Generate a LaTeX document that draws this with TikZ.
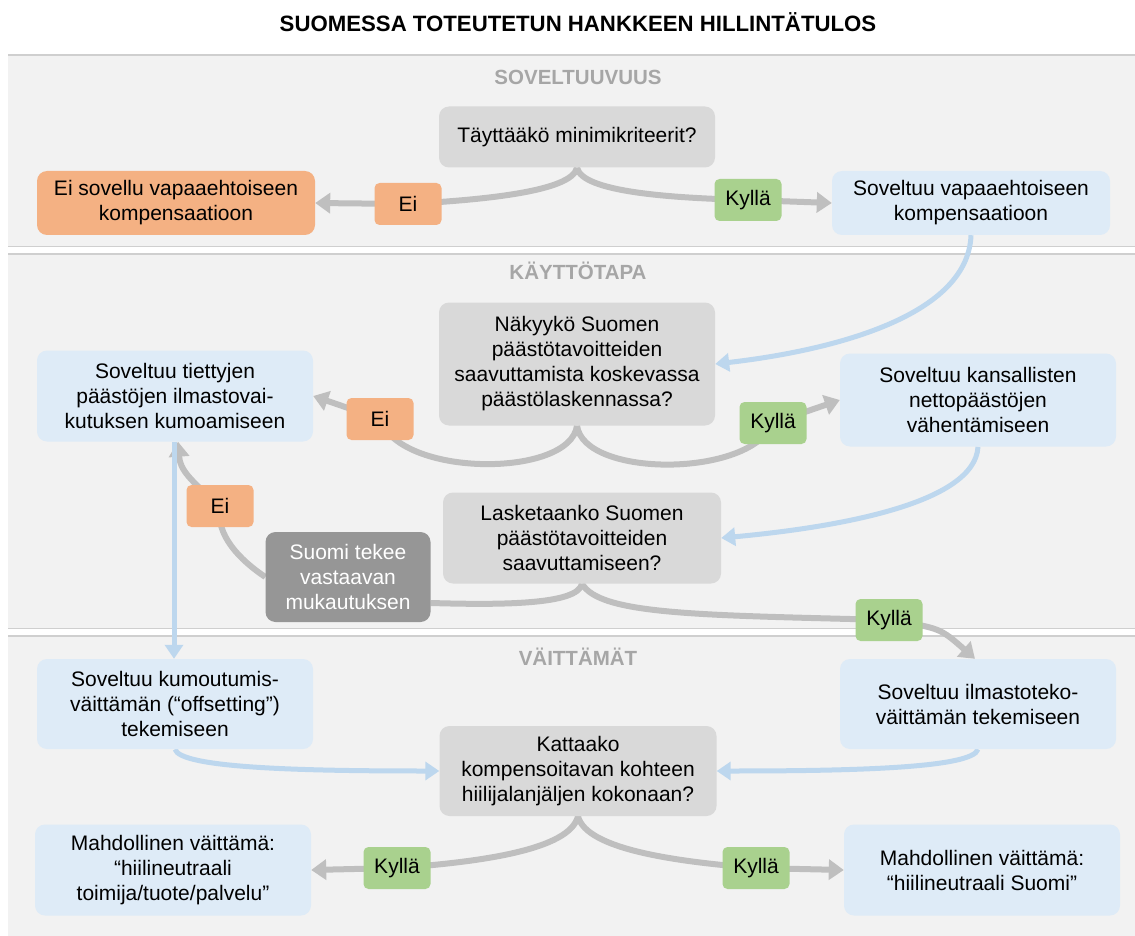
\documentclass[tikz,border=0pt]{standalone}
\usepackage{fontspec}
\setmainfont{Liberation Sans}
\usetikzlibrary{arrows.meta}

\pgfdeclarelayer{hinten}
\pgfdeclarelayer{linien}
\pgfsetlayers{hinten,linien,main}

\definecolor{band}{HTML}{F2F2F2}
\definecolor{bandlinie}{HTML}{CFCFCF}
\definecolor{fragegrau}{HTML}{D9D9D9}
\definecolor{hellblau}{HTML}{DEEBF7}
\definecolor{orange}{HTML}{F4B183}
\definecolor{gruen}{HTML}{A9D18E}
\definecolor{dunkelgrau}{HTML}{969696}
\definecolor{pfeilgrau}{HTML}{BFBFBF}
\definecolor{pfeilblau}{HTML}{BDD7EE}
\definecolor{sektion}{HTML}{A6A6A6}

\tikzset{
  txt/.style={font=\fontsize{21}{25}\selectfont},
  box/.style={txt, rounded corners=10pt, minimum width=276pt, align=center, inner sep=2pt},
  frage/.style={box, fill=fragegrau},
  blau/.style={box, fill=hellblau},
  nein/.style={txt, rounded corners=5pt, fill=orange, minimum width=67pt, minimum height=42pt, inner sep=1pt},
  ja/.style={nein, fill=gruen},
  sek/.style={font=\bfseries\fontsize{20.5}{24}\selectfont, text=sektion},
  gpfeil/.style={draw=pfeilgrau, line width=6pt, -{Triangle[width=20pt,length=15pt]}},
  glinie/.style={draw=pfeilgrau, line width=6pt},
  bpfeil/.style={draw=pfeilblau, line width=5pt, -{Triangle[width=18pt,length=14pt]}}
}

\begin{document}
\begin{tikzpicture}[x=1pt, y=-1pt]
    \useasboundingbox (0,0) rectangle (1135,936);

    % Baender
    \begin{pgfonlayer}{hinten}
      \fill[band] (8,55) rectangle (1135,246);
      \fill[band] (8,254) rectangle (1135,628);
      \fill[band] (8,636) rectangle (1135,936);
      \draw[bandlinie, line width=1.2pt] (8,55) -- (1135,55);
      \draw[bandlinie, line width=1pt] (8,246) -- (1135,246);
      \draw[bandlinie, line width=1.2pt] (8,254) -- (1135,254);
      \draw[bandlinie, line width=1pt] (8,628) -- (1135,628);
      \draw[bandlinie, line width=1.2pt] (8,636) -- (1135,636);
    \end{pgfonlayer}

    % Titel
    \node[font=\bfseries\fontsize{22.2}{26}\selectfont] (titel) at (578,22)
      {SUOMESSA TOTEUTETUN HANKKEEN HILLINTÄTULOS};
    \node[sek] (sek1) at (578,77) {SOVELTUUVUUS};
    \node[sek] (sek2) at (578,271) {KÄYTTÖTAPA};
    \node[sek] (sek3) at (578,657) {VÄITTÄMÄT};

    % Soveltuvuus
    \node[frage, minimum height=61pt] (q1) at (577,137) {Täyttääkö minimikriteerit?};
    \node[box, fill=orange, minimum width=278pt, minimum height=64pt] (nein1) at (176,203)
      {Ei sovellu vapaaehtoiseen\\kompensaatioon};
    \node[blau, minimum width=278pt, minimum height=64pt] (ja1) at (971,203)
      {Soveltuu vapaaehtoiseen\\kompensaatioon};
    \node[nein] (ei1) at (408,204) {Ei};
    \node[ja] (ky1) at (748,200) {Kyllä};

    % Kayttotapa
    \node[frage, minimum height=123pt] (q2) at (577,364)
      {Näkyykö Suomen\\päästötavoitteiden\\saavuttamista koskevassa\\päästölaskennassa?};
    \node[blau, minimum height=91pt] (links2) at (175,396)
      {Soveltuu tiettyjen\\päästöjen ilmastovai-\\kutuksen kumoamiseen};
    \node[blau, minimum height=93pt] (rechts2) at (978,400)
      {Soveltuu kansallisten\\nettopäästöjen\\vähentämiseen};
    \node[nein] (ei2) at (380,419) {Ei};
    \node[ja] (ky2) at (773,423) {Kyllä};
    \node[frage, minimum width=278pt, minimum height=91pt] (q3) at (582,538)
      {Lasketaanko Suomen\\päästötavoitteiden\\saavuttamiseen?};
    \node[box, fill=dunkelgrau, text=white, minimum width=165pt, minimum height=90pt] (mukaut) at (348,577)
      {Suomi tekee\\vastaavan\\mukautuksen};
    \node[nein] (ei3) at (220,506) {Ei};
    \node[ja] (ky3) at (889,620) {Kyllä};

    % Vaittamat
    \node[blau, minimum height=90pt] (links3) at (175,704)
      {Soveltuu kumoutumis-\\väittämän (“offsetting”)\\tekemiseen};
    \node[blau, minimum height=90pt] (rechts3) at (978,704)
      {Soveltuu ilmastoteko-\\väittämän tekemiseen};
    \node[frage, minimum width=277pt, minimum height=90pt] (q4) at (578,771)
      {Kattaako\\kompensoitavan kohteen\\hiilijalanjäljen kokonaan?};
    \node[blau, minimum height=91pt] (erg1) at (173,870)
      {Mahdollinen väittämä:\\“hiilineutraali\\toimija/tuote/palvelu”};
    \node[blau, minimum height=91pt] (erg2) at (982,870)
      {Mahdollinen väittämä:\\“hiilineutraali Suomi”};
    \node[ja] (ky4) at (397,868) {Kyllä};
    \node[ja] (ky5) at (756,868) {Kyllä};

    % Verbindungen
    \begin{pgfonlayer}{linien}
      \draw[gpfeil] (q1.south) .. controls (572,192) and (480,200) .. (ei1.center) -- (nein1.east);
      \draw[gpfeil] (q1.south) .. controls (582,192) and (670,198) .. (ky1.center) -- (ja1.west);
      \draw[bpfeil] (ja1.south) .. controls (968,320) and (820,352) .. (q2.east);

      \draw[gpfeil] (q2.south) .. controls (570,478) and (400,478) .. (ei2.center) -- (links2.east);
      \draw[gpfeil] (q2.south) .. controls (584,478) and (750,478) .. (ky2.center) -- (rechts2.west);
      \draw[bpfeil] (rechts2.south) .. controls (975,505) and (830,528) .. (q3.east);

      \draw[glinie] (q3.south) .. controls (578,605) and (500,605) .. ([yshift=-26pt]mukaut.east);
      \draw[gpfeil] (mukaut.west) .. controls (240,560) and (215,535) .. (ei3.center)
        .. controls (190,480) and (180,470) .. ([xshift=3pt]links2.south);
      \draw[gpfeil] (q3.south) .. controls (600,615) and (700,615) .. (ky3.center)
        .. controls (940,628) .. ([xshift=-3pt]rechts3.north);
      \draw[bpfeil] ([xshift=-1pt]links2.south) -- ([xshift=-1pt]links3.north);

      \draw[bpfeil] (links3.south) .. controls (180,768) and (300,771) .. (q4.west);
      \draw[bpfeil] (rechts3.south) .. controls (973,768) and (855,771) .. (q4.east);
      \draw[gpfeil] (q4.south) .. controls (570,850) and (480,862) .. (ky4.center) -- (erg1.east);
      \draw[gpfeil] (q4.south) .. controls (586,850) and (680,862) .. (ky5.center) -- (erg2.west);
    \end{pgfonlayer}

\end{tikzpicture}
\end{document}
